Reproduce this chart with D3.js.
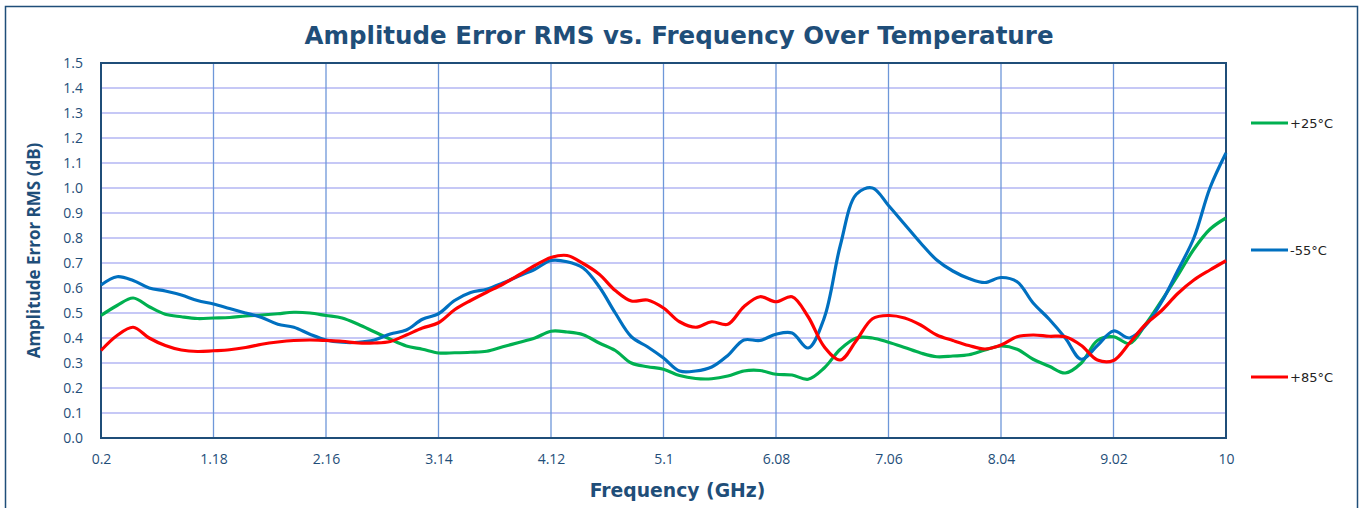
<!DOCTYPE html>
<html>
<head>
<meta charset="utf-8">
<script src="https://cdn.jsdelivr.net/npm/d3@7"></script>
<style>
	body { margin: 0; background: #fff; }
</style>
</head>
<body>
<script>
// data
var freq_start = 0.2;
var freq_step = 0.14;
var x_ticks = [0.2, 1.18, 2.16, 3.14, 4.12, 5.1, 6.08, 7.06, 8.04, 9.02, 10];
var y_ticks = d3.range(0, 16).map(function (d) { return d / 10; });

var series_names = ['+25°C', '-55°C', '+85°C'];
var series_colors = ['#00b050', '#0070c0', '#ff0000'];

var amp_25 = [
	0.49, 0.53, 0.56, 0.525, 0.495, 0.485, 0.478, 0.48, 0.482, 0.488,
	0.492, 0.497, 0.503, 0.50, 0.49, 0.48, 0.455, 0.425, 0.395, 0.368,
	0.355, 0.34, 0.341, 0.343, 0.347, 0.365, 0.382, 0.40, 0.427, 0.424,
	0.413, 0.38, 0.35, 0.30, 0.285, 0.275, 0.25, 0.238, 0.237, 0.248,
	0.268, 0.27, 0.255, 0.252, 0.235, 0.28, 0.355, 0.40, 0.40, 0.383,
	0.362, 0.34, 0.325, 0.328, 0.333, 0.352, 0.368, 0.355, 0.315, 0.287,
	0.26, 0.30, 0.39, 0.405, 0.378, 0.455, 0.55, 0.65, 0.755, 0.835,
	0.88
];
var amp_m55 = [
	0.612, 0.645, 0.63, 0.60, 0.588, 0.572, 0.55, 0.536, 0.518, 0.50,
	0.482, 0.455, 0.443, 0.415, 0.392, 0.383, 0.383, 0.392, 0.416, 0.432,
	0.475, 0.497, 0.55, 0.582, 0.595, 0.62, 0.648, 0.675, 0.71, 0.705,
	0.68, 0.605, 0.50, 0.405, 0.365, 0.32, 0.268, 0.268, 0.284, 0.33,
	0.392, 0.39, 0.415, 0.42, 0.36, 0.48, 0.77, 0.975, 1.0, 0.93,
	0.855, 0.78, 0.712, 0.668, 0.638, 0.622, 0.642, 0.625, 0.54, 0.475,
	0.40, 0.315, 0.37, 0.428, 0.40, 0.45, 0.545, 0.67, 0.80, 1.0,
	1.14
];
var amp_85 = [
	0.35, 0.41, 0.443, 0.40, 0.37, 0.352, 0.346, 0.349, 0.353, 0.362,
	0.375, 0.384, 0.39, 0.392, 0.39, 0.387, 0.38, 0.38, 0.386, 0.412,
	0.44, 0.461, 0.513, 0.55, 0.583, 0.615, 0.652, 0.69, 0.722, 0.73,
	0.698, 0.655, 0.59, 0.548, 0.552, 0.52, 0.465, 0.443, 0.465, 0.455,
	0.525, 0.565, 0.545, 0.565, 0.485, 0.365, 0.312, 0.39, 0.477, 0.49,
	0.48, 0.452, 0.412, 0.39, 0.37, 0.356, 0.372, 0.405, 0.412, 0.407,
	0.405, 0.37, 0.312, 0.31, 0.38, 0.455, 0.51, 0.578, 0.632, 0.672,
	0.709
];
var series_values = [amp_25, amp_m55, amp_85];
var legend_y = [123, 250, 377];

// chart
var full_width = 1363;
var full_height = 508;
var margin = {
	top: 63,
	right: 137,
	bottom: 70,
	left: 101,
};
var width = full_width - margin.left - margin.right;
var height = full_height - margin.top - margin.bottom;
var dark_blue = '#1f4e79';
var open_sans = "'Open Sans', sans-serif";
var dejavu = "'DejaVu Sans', sans-serif";

var root = d3.select('body')
	.append('svg')
	.attr('width', full_width)
	.attr('height', full_height);

// outer border
root.append('rect')
	.attr('x', 5.5)
	.attr('y', 6.5)
	.attr('width', 1352)
	.attr('height', 520)
	.attr('fill', 'none')
	.attr('stroke', dark_blue)
	.attr('stroke-width', 1.5);

root.append('text')
	.attr('x', 679)
	.attr('y', 44)
	.attr('text-anchor', 'middle')
	.style('font-family', dejavu)
	.style('font-size', '24.5px')
	.style('font-weight', 'bold')
	.attr('fill', dark_blue)
	.text('Amplitude Error RMS vs. Frequency Over Temperature');

var svg = root.append('g')
	.attr('transform', 'translate(' + margin.left + ',' + margin.top + ')');

// axes
var x = d3.scaleLinear().domain([0.2, 10]).range([0, width]);
var y = d3.scaleLinear().domain([0, 1.5]).range([height, 0]);

// horizontal grid
svg.append('g')
	.selectAll('line')
	.data(y_ticks.slice(1))
	.enter()
	.append('line')
	.attr('x1', 0)
	.attr('x2', width)
	.attr('y1', function (d) { return y(d); })
	.attr('y2', function (d) { return y(d); })
	.attr('stroke', '#c6c8f6')
	.attr('stroke-width', 2);

// vertical grid
svg.append('g')
	.selectAll('line')
	.data(x_ticks.slice(1, -1))
	.enter()
	.append('line')
	.attr('x1', function (d) { return x(d); })
	.attr('x2', function (d) { return x(d); })
	.attr('y1', 0)
	.attr('y2', height)
	.attr('stroke', '#6e97d9')
	.attr('stroke-width', 1.3);

var x_axis = d3.axisBottom()
	.scale(x)
	.tickValues(x_ticks)
	.tickSize(0)
	.tickPadding(16)
	.tickFormat(function (d) { return String(d); });

var y_axis = d3.axisLeft()
	.scale(y)
	.tickValues(y_ticks)
	.tickSize(0)
	.tickPadding(18)
	.tickFormat(d3.format('.1f'));

svg.append('g')
	.attr('class', 'x axis')
	.attr('transform', 'translate(0,' + height + ')')
	.call(x_axis);
svg.append('g')
	.attr('class', 'y axis')
	.call(y_axis);

svg.selectAll('.axis .domain').remove();
svg.selectAll('.axis text')
	.style('font-family', open_sans)
	.style('font-size', '14px')
	.attr('fill', dark_blue);

// plot frame
svg.append('rect')
	.attr('x', 0)
	.attr('y', 0)
	.attr('width', width)
	.attr('height', height)
	.attr('fill', 'none')
	.attr('stroke', dark_blue)
	.attr('stroke-width', 2);

svg.append('text')
	.attr('x', width / 2 + 14)
	.attr('y', height + 59)
	.attr('text-anchor', 'middle')
	.style('font-family', dejavu)
	.style('font-size', '18.8px')
	.style('font-weight', 'bold')
	.attr('fill', dark_blue)
	.text('Frequency (GHz)');

svg.append('text')
	.attr('transform', 'translate(-61,' + (height / 2) + ') rotate(-90)')
	.attr('text-anchor', 'middle')
	.style('font-family', open_sans)
	.style('font-size', '17px')
	.style('font-weight', 'bold')
	.attr('fill', dark_blue)
	.text('Amplitude Error RMS (dB)');

// lines
var line = d3.line()
	.x(function (d, i) { return x(freq_start + i * freq_step); })
	.y(function (d) { return y(d); })
	.curve(d3.curveCatmullRom.alpha(0.5));

series_values.forEach(function (vals, s) {
	svg.append('path')
		.datum(vals)
		.attr('class', 'line line' + s)
		.attr('d', line)
		.attr('fill', 'none')
		.attr('stroke', series_colors[s])
		.attr('stroke-width', 3.2)
		.attr('stroke-linejoin', 'round');
});

// legend
var legend = root.append('g')
	.selectAll('g')
	.data(series_names)
	.enter()
	.append('g')
	.attr('transform', function (d, i) { return 'translate(1251,' + legend_y[i] + ')'; });

legend.append('line')
	.attr('x1', 0)
	.attr('x2', 37)
	.attr('stroke', function (d, i) { return series_colors[i]; })
	.attr('stroke-width', 3.2);

legend.append('text')
	.attr('x', 39)
	.attr('y', 5)
	.style('font-family', dejavu)
	.style('font-size', '13px')
	.attr('fill', '#222')
	.text(function (d) { return d; });
</script>
</body>
</html>
